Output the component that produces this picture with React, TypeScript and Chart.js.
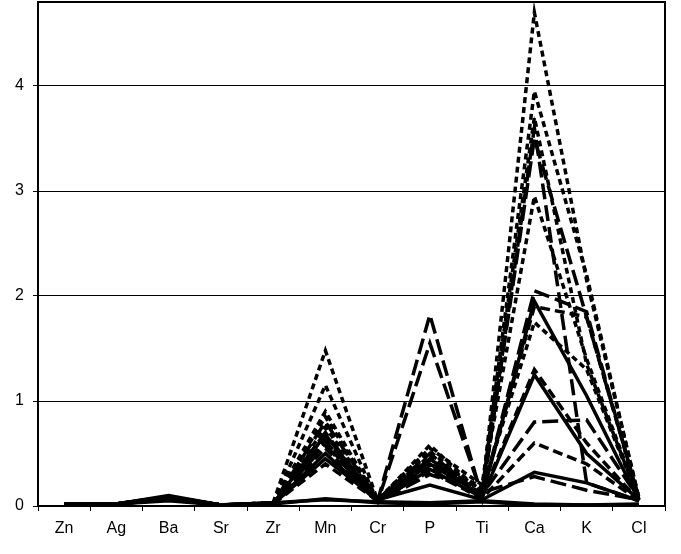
import React, { useEffect, useRef } from "react";
import { Chart, registerables } from "chart.js";

Chart.register(...registerables);

const categories = ["Zn", "Ag", "Ba", "Sr", "Zr", "Mn", "Cr", "P", "Ti", "Ca", "K", "Cl"];
const yTicks = [0, 1, 2, 3, 4];

// dash styles: short dots, medium, long, solid
const SHORT = [6, 4];
const MED = [10, 5];
const LONG = [16, 6];
const SOLID: number[] = [];

const s01 = [0.02, 0.02, 0.08, 0.01, 0.03, 1.48, 0.05, 0.58, 0.12, 4.7, 2.15, 0.08];
const s02 = [0.02, 0.02, 0.07, 0.01, 0.02, 1.15, 0.04, 0.52, 0.14, 3.95, 2.2, 0.07];
const s03 = [0.02, 0.02, 0.09, 0.01, 0.03, 0.9, 0.06, 0.55, 0.2, 3.7, 1.35, 0.06];
const s04 = [0.02, 0.02, 0.06, 0.01, 0.02, 0.65, 0.05, 1.82, 0.08, 3.6, 0.22, 0.05];
const s05 = [0.02, 0.02, 0.08, 0.01, 0.03, 0.7, 0.04, 1.55, 0.1, 3.5, 1.8, 0.08];
const s06 = [0.02, 0.02, 0.07, 0.01, 0.02, 0.85, 0.05, 0.42, 0.18, 2.95, 1.4, 0.07];
const s07 = [0.02, 0.02, 0.08, 0.01, 0.03, 0.8, 0.06, 0.5, 0.1, 2.05, 1.85, 0.06];
const s08 = [0.02, 0.02, 0.09, 0.01, 0.02, 0.68, 0.05, 0.45, 0.09, 1.95, 1.05, 0.05];
const s09 = [0.02, 0.02, 0.07, 0.01, 0.03, 0.6, 0.04, 0.38, 0.12, 1.9, 1.8, 0.07];
const s10 = [0.02, 0.02, 0.08, 0.01, 0.02, 0.75, 0.06, 0.48, 0.15, 1.75, 1.3, 0.06];
const s11 = [0.02, 0.02, 0.06, 0.01, 0.03, 0.55, 0.05, 0.4, 0.1, 1.3, 0.6, 0.05];
const s12 = [0.02, 0.02, 0.08, 0.01, 0.02, 0.5, 0.04, 0.35, 0.08, 1.25, 0.5, 0.06];
const s13 = [0.02, 0.02, 0.07, 0.01, 0.03, 0.62, 0.05, 0.42, 0.11, 0.8, 0.82, 0.07];
const s14 = [0.02, 0.02, 0.09, 0.01, 0.02, 0.45, 0.06, 0.2, 0.06, 0.32, 0.22, 0.05];
const s15 = [0.02, 0.02, 0.06, 0.01, 0.03, 0.58, 0.04, 0.3, 0.13, 0.28, 0.15, 0.06];
const s16 = [0.02, 0.02, 0.1, 0.01, 0.02, 0.07, 0.03, 0.02, 0.04, 0.01, 0.01, 0.01];
const s17 = [0.02, 0.02, 0.05, 0.01, 0.03, 0.06, 0.04, 0.03, 0.05, 0.02, 0.01, 0.02];
const s18 = [0.02, 0.02, 0.08, 0.01, 0.02, 0.4, 0.05, 0.33, 0.07, 0.6, 0.4, 0.05];

const seriesList = [
  { data: s01, dash: SHORT },
  { data: s02, dash: SHORT },
  { data: s03, dash: SHORT },
  { data: s04, dash: LONG },
  { data: s05, dash: LONG },
  { data: s06, dash: SHORT },
  { data: s07, dash: LONG },
  { data: s08, dash: SOLID },
  { data: s09, dash: MED },
  { data: s10, dash: SHORT },
  { data: s11, dash: MED },
  { data: s12, dash: SOLID },
  { data: s13, dash: LONG },
  { data: s14, dash: SOLID },
  { data: s15, dash: LONG },
  { data: s16, dash: SOLID },
  { data: s17, dash: SOLID },
  { data: s18, dash: MED },
];

const frame = {
  id: "frame",
  afterDraw(chart: any) {
    const { ctx, chartArea } = chart;
    ctx.save();
    ctx.strokeStyle = "#000";
    ctx.lineWidth = 2;
    ctx.strokeRect(chartArea.left, chartArea.top, chartArea.right - chartArea.left, chartArea.bottom - chartArea.top);
    ctx.restore();
  },
};

export default function App() {
  const ref = useRef<HTMLCanvasElement>(null);
  useEffect(() => {
    if (!ref.current) return;
    const chart = new Chart(ref.current, {
      type: "line",
      data: {
        labels: categories,
        datasets: seriesList.map((s, i) => ({
          label: "S" + (i + 1),
          data: s.data,
          borderColor: "#000",
          backgroundColor: "#000",
          borderWidth: 3.5,
          borderDash: s.dash,
          borderCapStyle: "butt",
          pointRadius: 0,
          tension: 0,
          fill: false,
        })),
      },
      options: {
        animation: false,
        responsive: false,
        layout: { padding: { top: 2, right: 16, left: 0, bottom: 0 } },
        plugins: { legend: { display: false }, tooltip: { enabled: false } },
        scales: {
          x: {
            offset: true,
            grid: { offset: true, drawOnChartArea: false, drawTicks: true, tickLength: 5, color: "#000", lineWidth: 1 },
            border: { color: "#000", width: 2 },
            ticks: { color: "#000", font: { family: "Liberation Sans", size: 16 }, padding: 8, maxRotation: 0, autoSkip: false },
            afterFit: (scale: any) => { scale.height = 48; scale.paddingLeft = 0; scale.paddingRight = 0; },
          },
          y: {
            min: 0,
            max: 4.8,
            afterBuildTicks: (scale: any) => { scale.ticks = yTicks.map((v) => ({ value: v })); },
            grid: { color: "#000", lineWidth: 1, tickLength: 5, drawTicks: true },
            border: { color: "#000", width: 2 },
            ticks: { color: "#000", font: { family: "Liberation Sans", size: 16 }, padding: 9 },
            afterFit: (scale: any) => { scale.width = 38; scale.paddingTop = 0; scale.paddingBottom = 0; },
          },
        },
      },
      plugins: [frame],
    });
    return () => chart.destroy();
  }, []);
  return (
    <canvas
      ref={ref}
      width={681}
      height={554}
      style={{ position: "absolute", left: 0, top: 0, width: 681, height: 554, background: "#fff" }}
    />
  );
}
